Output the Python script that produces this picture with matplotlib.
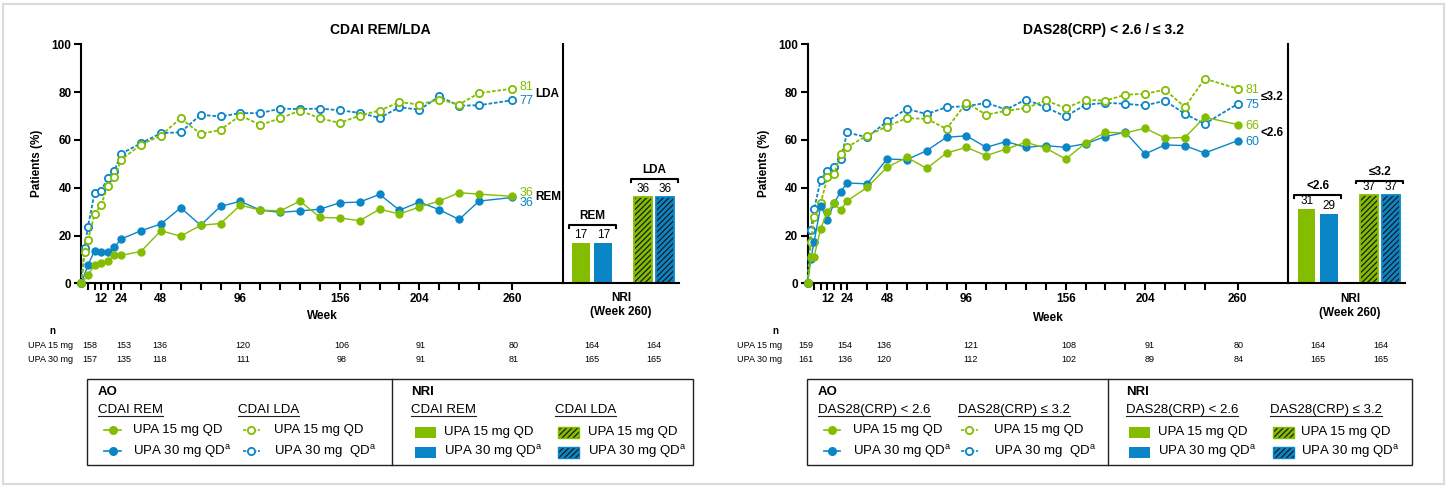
import matplotlib
matplotlib.use('Agg')
import matplotlib.pyplot as plt
from matplotlib.lines import Line2D
from matplotlib.patches import Rectangle

plt.rcParams['font.family'] = ['Liberation Sans', 'DejaVu Sans']
plt.rcParams['mathtext.fontset'] = 'custom'
plt.rcParams['mathtext.rm'] = 'Liberation Sans'
plt.rcParams['mathtext.it'] = 'Liberation Sans:italic'
plt.rcParams['mathtext.bf'] = 'Liberation Sans:bold'
plt.rcParams['hatch.linewidth'] = 0.9

# ---------------- data ----------------
weeks_late = [36, 48, 60, 72, 84, 96, 108, 120, 132, 144, 156, 168, 180, 192, 204, 216, 228, 240, 260]
weeks_L_rem = [0, 4, 8, 12, 16, 20, 24] + weeks_late
weeks_L_lda = [0, 2, 4, 8, 12, 16, 20, 24] + weeks_late
weeks_R = [0, 2, 4, 8, 12, 16, 20, 24] + weeks_late

cdai_rem_15 = [0, 3.4, 7.6, 8.3, 9.4, 11.7, 11.7, 13.3, 22.0, 19.7, 24.3, 25.0, 32.7, 30.6, 30.3, 34.4,
               27.6, 27.3, 26.2, 31.0, 29.0, 31.9, 34.4, 37.9, 37.3, 36.4]
cdai_rem_30 = [0, 7.6, 13.6, 12.9, 12.9, 15.1, 18.5, 22.0, 24.8, 31.6, 24.3, 32.2, 34.3, 30.6, 29.7, 30.3,
               31.0, 33.7, 34.0, 37.2, 30.6, 34.0, 30.8, 26.7, 34.4, 35.9]
cdai_lda_15 = [0, 13.3, 18.2, 28.8, 32.9, 40.8, 44.3, 51.7, 58.0, 61.8, 69.1, 62.5, 64.2, 70.2, 66.3, 69.0,
               72.3, 69.0, 67.1, 70.2, 72.3, 75.8, 74.8, 76.9, 74.8, 79.6, 81.4]
cdai_lda_30 = [0, 14.9, 23.6, 37.8, 38.8, 44.2, 47.0, 54.2, 58.6, 62.8, 63.2, 70.5, 69.8, 71.2, 71.2, 73.1,
               72.9, 73.1, 72.4, 71.3, 69.2, 73.7, 72.6, 78.2, 74.3, 74.5, 76.6]

das_26_15 = [0, 11.0, 11.2, 22.9, 29.9, 33.4, 30.6, 34.5, 40.1, 48.5, 52.7, 48.1, 54.5, 56.9, 53.4, 56.2,
             59.0, 56.5, 52.0, 58.6, 63.2, 62.9, 64.9, 60.8, 61.0, 69.5, 66.4]
das_26_30 = [0, 10.0, 17.4, 32.4, 26.6, 33.4, 38.3, 42.0, 41.6, 52.0, 51.7, 55.5, 61.1, 61.7, 56.9, 59.3,
             56.9, 57.6, 56.9, 58.4, 61.4, 63.2, 54.1, 57.9, 57.6, 54.5, 59.7]
das_32_15 = [0, 17.2, 27.8, 33.5, 44.3, 45.6, 53.9, 57.0, 61.8, 65.6, 69.1, 68.8, 64.6, 75.5, 70.5, 72.2,
             73.3, 76.5, 73.3, 76.8, 76.4, 78.9, 79.3, 81.0, 73.7, 85.6, 81.4]
das_32_30 = [0, 22.4, 31.0, 43.4, 47.1, 48.5, 52.1, 63.1, 61.1, 67.7, 73.0, 70.8, 73.7, 74.1, 75.5, 72.7,
             76.9, 73.6, 69.8, 74.7, 75.5, 75.1, 74.4, 76.4, 70.9, 66.7, 75.1]

nri_L_groups = ['REM', 'LDA']
nri_L_15 = [17, 36]
nri_L_30 = [17, 36]
nri_R_groups = ['<2.6', '≤3.2']
nri_R_15 = [31, 37]
nri_R_30 = [29, 37]

tick_weeks = [4, 8, 12, 16, 20, 24] + weeks_late
labeled_weeks = [12, 24, 48, 96, 156, 204, 260]

n_L_15 = [158, 153, 136, 120, 106, 91, 80, 164, 164]
n_L_30 = [157, 135, 118, 111, 98, 91, 81, 165, 165]
n_R_15 = [159, 154, 136, 121, 108, 91, 80, 164, 164]
n_R_30 = [161, 136, 120, 112, 102, 89, 84, 165, 165]

# ---------------- style / layout ----------------
GREEN = '#84BD00'
BLUE = '#0A86C6'
W, H = 1447, 487
fig = plt.figure(figsize=(W / 100, H / 100), dpi=100)
fig.patch.set_facecolor('white')
fig.patches.append(Rectangle((3 / W, 3 / H), (W - 6) / W, (H - 7) / H, transform=fig.transFigure,
                             facecolor='white', edgecolor='#DADAE0', lw=1.5, zorder=-10))


def ax_px(x0, y0, x1, y1):
    return fig.add_axes([x0 / W, 1 - y1 / H, (x1 - x0) / W, (y1 - y0) / H])


def ftext(x, y, s, **kw):
    return fig.text(x / W, 1 - y / H, s, **kw)


SPINE = 1.5
FS = 8.5


def style_line_axes(ax):
    ax.set_xlim(0, 290.5)
    ax.set_ylim(0, 100)
    for s in ['top', 'right']:
        ax.spines[s].set_visible(False)
    for s in ['left', 'bottom']:
        ax.spines[s].set_linewidth(SPINE)
    ax.set_xticks(tick_weeks)
    ax.set_xticklabels([str(w) if w in labeled_weeks else '' for w in tick_weeks])
    ax.set_yticks([0, 20, 40, 60, 80, 100])
    ax.tick_params(direction='out', length=5, width=SPINE, labelsize=FS, pad=2)
    for lb in ax.get_xticklabels() + ax.get_yticklabels():
        lb.set_fontweight('bold')
    ax.set_ylabel('Patients (%)', fontsize=FS, fontweight='bold', labelpad=6)
    ax.patch.set_alpha(0)


def plot_series(ax, x, y, color, open_marker):
    if open_marker:
        ax.plot(x, y, color=color, lw=1.3, ls=(0, (2, 1)), marker='o', ms=5.2,
                mfc='white', mec=color, mew=1.3, clip_on=False, zorder=3)
    else:
        ax.plot(x, y, color=color, lw=1.0, ls='-', marker='o', ms=5.2,
                mfc=color, mec=color, mew=0.8, clip_on=False, zorder=4)


def bar_panel(ax, groups, v15, v30, bracket_off):
    ax.set_xlim(0, 116.5)
    ax.set_ylim(0, 100)
    for s in ['top', 'right']:
        ax.spines[s].set_visible(False)
    for s in ['left', 'bottom']:
        ax.spines[s].set_linewidth(SPINE)
    ax.set_xticks([])
    ax.set_yticks([])
    ax.patch.set_alpha(0)
    for i, g in enumerate(groups):
        c = 29.5 + 62 * i
        hatch = '//////' if i == 1 else None
        for off, val, col in [(-11.1, v15[i], GREEN), (11.1, v30[i], BLUE)]:
            if hatch:
                ax.bar(c + off, val, width=17.5, color=col, edgecolor='#1b1b1b', hatch=hatch, lw=0)
                ax.bar(c + off, val, width=17.5, fill=False, edgecolor=col, lw=1.3)
            else:
                ax.bar(c + off, val, width=17.5, color=col, lw=0)
            ax.text(c + off, val + 0.8, str(val), ha='center', va='bottom', fontsize=FS)
        top = max(v15[i], v30[i]) + bracket_off
        ax.plot([c - 23.5, c - 23.5, c + 23.5, c + 23.5], [top - 1.2, top, top, top - 1.2],
                color='black', lw=1.5, clip_on=False)
        ax.text(c, top + 1.2, g, ha='center', va='bottom', fontsize=FS, fontweight='bold')


# ---------------- left panel ----------------
axL = ax_px(81.3, 44.3, 562.7, 283.3)
style_line_axes(axL)
plot_series(axL, weeks_L_lda, cdai_lda_30, BLUE, True)
plot_series(axL, weeks_L_lda, cdai_lda_15, GREEN, True)
plot_series(axL, weeks_L_rem, cdai_rem_30, BLUE, False)
plot_series(axL, weeks_L_rem, cdai_rem_15, GREEN, False)
xe = weeks_late[-1] + 4.5
axL.text(xe, cdai_lda_15[-1] + 0.8, f'{round(cdai_lda_15[-1])}', color=GREEN, fontsize=FS + 0.5, va='center')
axL.text(xe, cdai_lda_30[-1] - 0.3, f'{round(cdai_lda_30[-1])}', color=BLUE, fontsize=FS + 0.5, va='center')
axL.text(xe, cdai_rem_15[-1] + 1.5, f'{round(cdai_rem_15[-1])}', color=GREEN, fontsize=FS + 0.5, va='center')
axL.text(xe, cdai_rem_30[-1] - 2.2, f'{round(cdai_rem_30[-1])}', color=BLUE, fontsize=FS + 0.5, va='center')
axL.text(xe + 9.5, (cdai_lda_15[-1] + cdai_lda_30[-1]) / 2, 'LDA', fontsize=FS, fontweight='bold', va='center')
axL.text(xe + 9.5, (cdai_rem_15[-1] + cdai_rem_30[-1]) / 2, 'REM', fontsize=FS, fontweight='bold', va='center')

bL = ax_px(562.7, 44.3, 679, 283.3)
bar_panel(bL, nri_L_groups, nri_L_15, nri_L_30, 7.5)

ftext(380, 30, 'CDAI REM/LDA', ha='center', va='center', fontsize=10, fontweight='bold')
ftext(322, 316, 'Week', ha='center', va='center', fontsize=FS, fontweight='bold')
ftext(621, 305, 'NRI\n(Week 260)', ha='center', va='center', fontsize=FS, fontweight='bold', linespacing=1.3)

# ---------------- right panel ----------------
axR = ax_px(807.5, 44.3, 1288.3, 283.3)
style_line_axes(axR)
plot_series(axR, weeks_R, das_32_30, BLUE, True)
plot_series(axR, weeks_R, das_32_15, GREEN, True)
plot_series(axR, weeks_R, das_26_30, BLUE, False)
plot_series(axR, weeks_R, das_26_15, GREEN, False)
for arr, col in [(das_32_15, GREEN), (das_32_30, BLUE), (das_26_15, GREEN), (das_26_30, BLUE)]:
    axR.text(xe, arr[-1] - 0.6, f'{round(arr[-1])}', color=col, fontsize=FS + 0.5, va='center')
axR.text(xe + 9.5, (das_32_15[-1] + das_32_30[-1]) / 2 - 0.5, '≤3.2', fontsize=FS, fontweight='bold', va='center')
axR.text(xe + 9.5, (das_26_15[-1] + das_26_30[-1]) / 2 - 0.3, '<2.6', fontsize=FS, fontweight='bold', va='center')

bR = ax_px(1288.3, 44.3, 1405, 283.3)
bar_panel(bR, nri_R_groups, nri_R_15, nri_R_30, 6.0)

ftext(1103, 30, 'DAS28(CRP) < 2.6 / ≤ 3.2', ha='center', va='center', fontsize=10, fontweight='bold')
ftext(1048, 318, 'Week', ha='center', va='center', fontsize=FS, fontweight='bold')
ftext(1350, 306, 'NRI\n(Week 260)', ha='center', va='center', fontsize=FS, fontweight='bold', linespacing=1.3)

# ---------------- n tables ----------------
NFS = 6.5
colsL = [90, 124, 160, 243, 342, 421, 514, 592, 654]
colsR = [806, 845, 884, 971, 1069, 1150, 1239, 1318, 1381]
for cols, n15, n30, lab_x, n_x in [(colsL, n_L_15, n_L_30, 28, 52), (colsR, n_R_15, n_R_30, 737, 775)]:
    ftext(n_x, 331, 'n', ha='center', va='center', fontsize=NFS + 0.5, fontweight='bold')
    ftext(lab_x, 346, 'UPA 15 mg', ha='left', va='center', fontsize=NFS)
    ftext(lab_x, 359, 'UPA 30 mg', ha='left', va='center', fontsize=NFS)
    for x, a, b in zip(cols, n15, n30):
        ftext(x, 346, str(a), ha='center', va='center', fontsize=NFS)
        ftext(x, 359, str(b), ha='center', va='center', fontsize=NFS)

# ---------------- legends ----------------
LFS = 9.5
SUP = 'UPA 30 mg QD$^{\\mathrm{a}}$'
underlined = []


def legend_box(x0, x1, xdiv, heads, ao_cols, nri_cols, labels30_ao):
    fig.patches.append(Rectangle((x0 / W, 1 - 465 / H), (x1 - x0) / W, 86 / H, transform=fig.transFigure,
                                 facecolor='none', edgecolor='#222222', lw=1.0))
    fig.lines.append(Line2D([xdiv / W, xdiv / W], [1 - 379 / H, 1 - 465 / H], transform=fig.transFigure,
                            color='#222222', lw=1.0))
    ftext(ao_cols[0][0], 392, 'AO', fontsize=LFS, fontweight='bold', va='center')
    ftext(nri_cols[0][0], 392, 'NRI', fontsize=LFS, fontweight='bold', va='center')
    for k, (hx, mx, tx) in enumerate(ao_cols):
        underlined.append(ftext(hx, 410, heads[k], fontsize=LFS, va='center'))
        for row_y, col, lab in [(430, GREEN, 'UPA 15 mg QD'), (451, BLUE, labels30_ao[k])]:
            ls = '-' if k == 0 else (0, (2, 1))
            fig.lines.append(Line2D([(mx - 8.5) / W, (mx + 8.5) / W], [1 - row_y / H] * 2,
                                    transform=fig.transFigure, color=col, lw=1.2, ls=ls))
            fig.lines.append(Line2D([mx / W], [1 - row_y / H], transform=fig.transFigure, marker='o', ms=5.2,
                                    mfc=(col if k == 0 else 'white'), mec=col, mew=1.3, ls='none'))
            ftext(tx, row_y, lab, fontsize=LFS, va='center')
    for k, (hx, px, tx) in enumerate(nri_cols):
        underlined.append(ftext(hx, 410, heads[k], fontsize=LFS, va='center'))
        for row_y, col, lab in [(432, GREEN, 'UPA 15 mg QD'), (452, BLUE, SUP)]:
            kw = dict(transform=fig.transFigure)
            fig.patches.append(Rectangle((px / W, 1 - (row_y + 5.5) / H), 21 / W, 11 / H, facecolor=col,
                                         edgecolor=('#1b1b1b' if k == 1 else col), lw=0,
                                         hatch=('//////' if k == 1 else None), **kw))
            if k == 1:
                fig.patches.append(Rectangle((px / W, 1 - (row_y + 5.5) / H), 21 / W, 11 / H, fill=False,
                                             edgecolor=col, lw=1.0, **kw))
            ftext(tx, row_y, lab, fontsize=LFS, va='center')


legend_box(87, 693, 392, ['CDAI REM', 'CDAI LDA'],
           [(98, 112.5, 133), (238, 251, 274)], [(411, 415, 444), (555, 558, 588)],
           [SUP, 'UPA 30 mg  QD$^{\\mathrm{a}}$'])
legend_box(807, 1412, 1108, ['DAS28(CRP) < 2.6', 'DAS28(CRP) ≤ 3.2'],
           [(818, 832, 853), (958, 969, 994)], [(1126, 1129, 1158), (1270, 1273, 1301)],
           [SUP, 'UPA 30 mg  QD$^{\\mathrm{a}}$'])

fig.canvas.draw()
r = fig.canvas.get_renderer()
for t in underlined:
    bb = t.get_window_extent(r)
    y = bb.y0 + 0.5
    fig.lines.append(Line2D([bb.x0 / W, bb.x1 / W], [y / H, y / H], transform=fig.transFigure,
                            color='#222222', lw=0.8))

fig.savefig('out.png', dpi=100, facecolor=fig.get_facecolor())
